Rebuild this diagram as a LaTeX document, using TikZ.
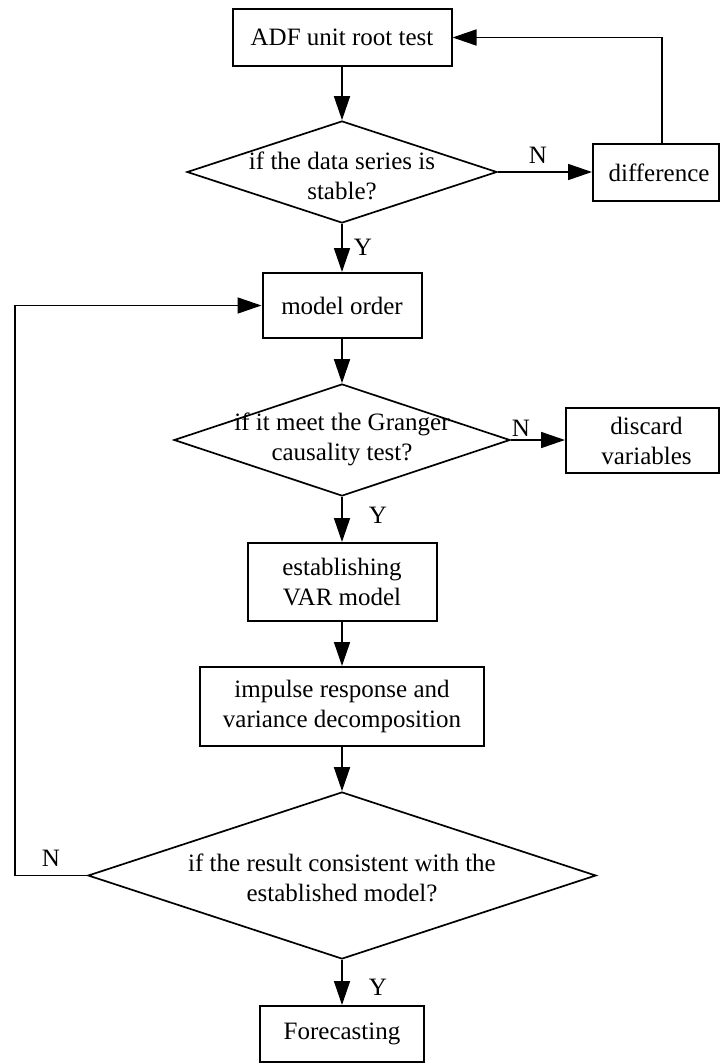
\documentclass[tikz,border=0pt]{standalone}
\usepackage{fontspec}
\setmainfont{Liberation Serif}
\usetikzlibrary{arrows.meta,shapes.geometric}
\begin{document}
\begin{tikzpicture}[x=1pt,y=-1pt,
  every node/.style={font=\fontsize{25}{30}\selectfont},
  box/.style={draw, line width=2pt, inner sep=0pt, align=center},
  dia/.style={draw, diamond, line width=1.7pt, inner sep=0pt},
  txt/.style={align=center, inner sep=0pt},
  lbl/.style={inner sep=0pt},
  arr/.style={line width=1.6pt, -{Triangle[length=24pt,width=16pt]}},
  line/.style={line width=1.6pt}]
\useasboundingbox (0,0) rectangle (720,1063);
% boxes
\node[box, minimum width=219pt, minimum height=57pt] (adf) at (342,37.5) {ADF unit root test};
\node[dia, minimum width=310pt, minimum height=102pt] (d1) at (342,172) {};
\node[txt] (d1t) at (342,176) {if the data series is\\stable?};
\node[box, minimum width=126pt, minimum height=57pt] (diff) at (656,172.5) {\hspace*{6pt}difference};
\node[box, minimum width=159pt, minimum height=65pt] (mo) at (342,305.5) {model order};
\node[dia, minimum width=336pt, minimum height=112pt] (d2) at (342,440) {};
\node[txt] (d2t) at (342,439) {if it meet the Granger\\causality test?};
\node[box, minimum width=153pt, minimum height=65pt] (disc) at (642.5,440.5) {\hspace*{8pt}discard\\\hspace*{8pt}variables};
\node[box, minimum width=189pt, minimum height=78pt] (est) at (342,582) {establishing\\VAR model};
\node[box, minimum width=284pt, minimum height=79pt] (imp) at (342,706.5) {impulse response and\\variance decomposition};
\node[dia, minimum width=508pt, minimum height=167pt] (d3) at (342,875.5) {};
\node[txt] (d3t) at (342,878) {if the result consistent with the\\established model?};
\node[box, minimum width=164pt, minimum height=56pt] (fc) at (342,1034) {Forecasting};
% labels
\node[lbl] (n1) at (538,155) {N};
\node[lbl] (y1) at (363,247) {Y};
\node[lbl] (n2) at (521,428) {N};
\node[lbl] (y2) at (378,515) {Y};
\node[lbl] (n3) at (51,858) {N};
\node[lbl] (y3) at (378,987) {Y};
\coordinate (c1) at (15,875.5);
% connectors
\draw[arr] (adf.south) -- (d1.north);
\draw[arr] (d1.east) -- (d1.east -| diff.west);
\draw[arr] ([xshift=6pt]diff.north) |- (adf.east);
\draw[arr] (d1.south) -- (mo.north);
\draw[arr] (mo.south) -- (d2.north);
\draw[arr] (d2.east) -- (d2.east -| disc.west);
\draw[arr] (d2.south) -- (est.north);
\draw[arr] (est.south) -- (imp.north);
\draw[arr] (imp.south) -- (d3.north);
\draw[arr] (d3.west) -- (c1) |- (mo.west);
\draw[arr] (d3.south) -- (fc.north);
\end{tikzpicture}
\end{document}
